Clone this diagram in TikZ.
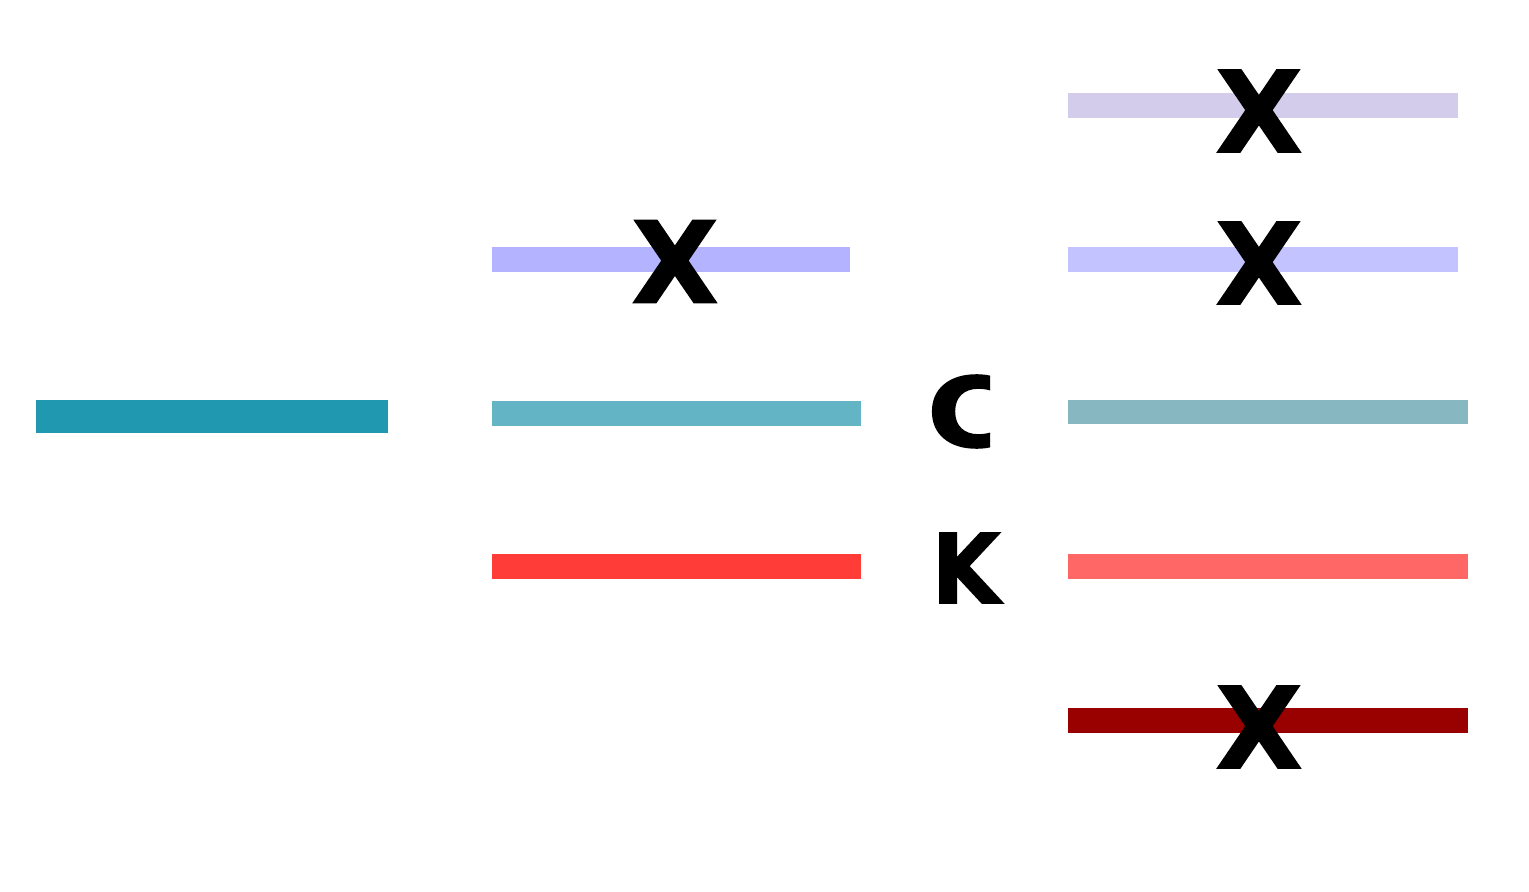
\documentclass[tikz,border=0pt]{standalone}
\usepackage{fontspec}
\setmainfont{DejaVu Sans}
\newfontfamily\heavyfont[FakeBold=1.5]{DejaVu Sans Bold}
\usepackage{tikz}
\tikzset{>=latex}
\definecolor{tealfull}{RGB}{32,152,176}
\definecolor{tealmid}{RGB}{99,181,198}
\definecolor{tealpale}{RGB}{135,184,194}
\definecolor{purplemid}{RGB}{179,179,255}
\definecolor{purplepale}{RGB}{195,195,255}
\definecolor{lavender}{RGB}{211,205,235}
\definecolor{redmid}{RGB}{255,60,55}
\definecolor{redpale}{RGB}{255,102,102}
\definecolor{reddark}{RGB}{153,0,0}
\tikzset{bar/.style={line width=0.25cm},
  crossmark/.style={anchor=center,inner sep=0pt,font=\fontsize{32}{32}\heavyfont},
  letter/.style={anchor=center,inner sep=0pt,font=\fontsize{27.5}{28}\heavyfont}}

\begin{document}
\begin{tikzpicture}
      \useasboundingbox (0,0) rectangle (15.29,8.91);

      \draw [bar, line width=0.33cm, tealfull] (0.36,4.745) -- (3.88,4.745);

      \draw [bar, purplemid] (4.92,6.315) -- (8.50,6.315);
      \draw [bar, tealmid] (4.92,4.78) -- (8.61,4.78);
      \draw [bar, redmid] (4.92,3.245) -- (8.61,3.245);

      \draw [bar, lavender] (10.68,7.85) -- (14.58,7.85);
      \draw [bar, purplepale] (10.68,6.315) -- (14.58,6.315);
      \draw [bar, line width=0.24cm, tealpale] (10.68,4.79) -- (14.68,4.79);
      \draw [bar, redpale] (10.68,3.25) -- (14.68,3.25);
      \draw [bar, reddark] (10.68,1.71) -- (14.68,1.71);

      \node [crossmark] (x0) at (6.75,6.295) {X};
      \node [crossmark] (x1) at (12.59,7.80) {X};
      \node [crossmark] (x2) at (12.59,6.28) {X};
      \node [crossmark] (x3) at (12.59,1.64) {X};

      \begin{scope}
        \clip (9.0,4.2) rectangle (9.90,5.4);
        \node [letter, xscale=1.15, transform shape] (c) at (9.68,4.795) {C};
      \end{scope}
      \node [letter, xscale=0.92, transform shape] (k) at (9.66,3.23) {K};
  \end{tikzpicture}
\end{document}
